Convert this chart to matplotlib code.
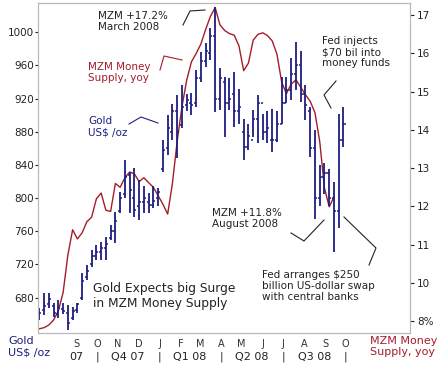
import matplotlib
matplotlib.use('Agg')
import matplotlib.pyplot as plt
import matplotlib.dates as mdates
import matplotlib.transforms as mtrans
from matplotlib.lines import Line2D
import pandas as pd

# weekly gold bars, US$ /oz (high, low, open, close)
gold_high = [667, 686, 686, 674, 677, 674, 671, 669, 674, 710, 719, 737, 743, 747, 753, 768,
             783, 807, 846, 831, 836, 822, 815, 806, 815, 812, 870, 900, 914, 924, 936, 925,
             927, 955, 976, 987, 1005, 1030, 957, 946, 945, 952, 932, 896, 890, 906, 924, 902,
             905, 908, 905, 946, 946, 969, 988, 978, 937, 910, 882, 840, 842, 835, 820, 902, 910]
gold_low = [653, 659, 668, 657, 656, 660, 641, 653, 662, 677, 701, 717, 725, 725, 725, 750,
            746, 782, 800, 782, 777, 774, 782, 782, 788, 790, 831, 852, 870, 849, 884, 905,
            900, 910, 940, 958, 966, 904, 906, 874, 906, 886, 890, 846, 858, 874, 866, 870,
            866, 856, 868, 890, 915, 918, 930, 916, 894, 850, 775, 790, 805, 790, 735, 764, 862]
gold_open = [655, 665, 672, 670, 660, 666, 662, 655, 665, 680, 705, 720, 730, 735, 740, 752,
             760, 785, 805, 828, 800, 790, 795, 795, 792, 800, 835, 860, 880, 905, 888, 912,
             915, 915, 945, 965, 975, 995, 920, 940, 915, 925, 905, 880, 862, 870, 895, 915,
             880, 870, 870, 890, 915, 930, 950, 960, 925, 905, 860, 800, 825, 830, 800, 785, 870]
gold_close = [662, 670, 678, 662, 668, 664, 650, 664, 672, 700, 712, 730, 735, 740, 745, 760,
              772, 800, 825, 810, 786, 795, 800, 792, 797, 808, 858, 885, 905, 880, 910, 918,
              912, 945, 965, 978, 995, 920, 945, 915, 920, 905, 910, 862, 875, 895, 915, 880,
              885, 870, 890, 915, 930, 950, 960, 925, 912, 860, 800, 825, 830, 800, 785, 870, 890]

# MZM money supply, % yoy (weekly)
mzm = [8.8, 8.83, 8.9, 9.03, 9.27, 9.75, 10.73, 11.39, 11.15, 11.31, 11.6, 11.72, 12.2, 12.35,
       11.9, 11.87, 12.6, 12.5, 12.75, 12.9, 12.85, 12.65, 12.75, 12.62, 12.5, 12.28, 12.06,
       11.8, 12.6, 13.7, 14.6, 15.3, 15.78, 16.0, 16.25, 16.63, 16.97, 17.2, 16.75, 16.6,
       16.52, 16.48, 16.2, 15.55, 15.75, 16.35, 16.5, 16.54, 16.47, 16.33, 15.98, 15.25,
       14.95, 15.2, 15.31, 15.12, 14.92, 14.75, 14.45, 13.7, 12.48, 11.99, 12.25]

months = ['S', 'O', 'N', 'D', 'J', 'F', 'M', 'A', 'M', 'J', 'J', 'A', 'S', 'O']
quarters = ['07', 'Q4 07', 'Q1 08', 'Q2 08', 'Q3 08']

gold_ticks = [680, 720, 760, 800, 840, 880, 920, 960, 1000]
mzm_ticks = [9, 10, 11, 12, 13, 14, 15, 16, 17]
mzm_labels = ['8%', '10', '11', '12', '13', '14', '15', '16', '17']

navy = '#1e1e80'
red = '#a51c2a'
txt = '#222222'
W, H = 442, 367

plt.rcParams['font.family'] = ['DejaVu Sans']
fig = plt.figure(figsize=(W / 100, H / 100), dpi=100)
ax = fig.add_axes([38 / W, 1 - 333 / H, 372 / W, 330 / H])
ax2 = ax.twinx()

weeks = mdates.date2num(pd.date_range('2007-07-08', periods=len(gold_high), freq='7D'))
mweeks = weeks[:len(mzm)]
tk = 3.0  # half width of open/close ticks in days

ax2.plot(mweeks, mzm, color=red, lw=1.0, zorder=1)
ax.vlines(weeks, gold_low, gold_high, color=navy, lw=1.3)
ax.hlines(gold_open, weeks - tk, weeks, color=navy, lw=1.1)
ax.hlines(gold_close, weeks, weeks + tk, color=navy, lw=1.1)
ax.set_zorder(ax2.get_zorder() + 1)
ax.patch.set_visible(False)

x0 = mdates.date2num(pd.Timestamp('2007-07-06'))
x1 = mdates.date2num(pd.Timestamp('2009-01-04'))
ax.set_xlim(x0, x1)
ax.set_ylim(637.4, 1035.3)
ax2.set_ylim(8.69, 17.32)

ax.set_yticks(gold_ticks)
ax.set_yticklabels([str(v) for v in gold_ticks])
ax2.set_yticks(mzm_ticks)
ax2.set_yticklabels(mzm_labels)
ax.tick_params(axis='y', length=2, width=0.8, pad=1, labelsize=7.5, colors=txt)
ax2.tick_params(axis='y', length=3, width=0.8, pad=2, labelsize=7.5, colors=txt)

mstarts = mdates.date2num(pd.date_range('2007-09-01', periods=len(months), freq='MS'))
ax.set_xticks(mstarts)
ax.set_xticklabels(months)
ax.tick_params(axis='x', length=0, pad=4, labelsize=7, colors='#333333')

for a in (ax, ax2):
    for s in a.spines.values():
        s.set_color('#b8b8b8')
        s.set_linewidth(0.8)

# quarter row under the month letters
tr = mtrans.blended_transform_factory(ax.transData, ax.transAxes)
qpos = mdates.date2num(pd.to_datetime(['2007-09-01', '2007-11-15', '2008-02-15',
                                       '2008-05-16', '2008-08-16']))
for q, xq in zip(quarters, qpos):
    ax.text(xq, -0.073, q, transform=tr, ha='center', va='center', fontsize=8, color=txt)
seps = mdates.date2num(pd.to_datetime(['2007-10-01', '2008-01-01', '2008-04-01',
                                       '2008-07-01', '2008-10-01']))
for xs in seps:
    ax.text(xs, -0.073, '|', transform=tr, ha='center', va='center', fontsize=8, color=txt)


def ftext(px, py, s, color=txt, size=7.5, **kw):
    fig.text(px / W, 1 - py / H, s, color=color, fontsize=size, va='top', ha='left',
             linespacing=1.15, **kw)


def fline(pts, color=txt):
    xs = [p[0] / W for p in pts]
    ys = [1 - p[1] / H for p in pts]
    fig.add_artist(Line2D(xs, ys, color=color, lw=0.8, transform=fig.transFigure))


ftext(8, 336, 'Gold\nUS$ /oz', color=navy, size=8)
ftext(370, 336, 'MZM Money\nSupply, yoy', color=red, size=8)

ftext(98, 11, 'MZM +17.2%\nMarch 2008')
fline([(183, 25), (190, 11), (205, 10)])
ftext(88, 62, 'MZM Money\nSupply, yoy', color=red)
fline([(160, 70), (164, 56), (182, 60)], color=red)
ftext(88, 116, 'Gold\nUS$ /oz', color=navy)
fline([(129, 124), (141, 117), (158, 123)], color=navy)
ftext(322, 36, 'Fed injects\n$70 bil into\nmoney funds')
fline([(336, 81), (324, 95), (331, 108)])
ftext(212, 208, 'MZM +11.8%\nAugust 2008')
fline([(291, 233), (304, 241), (324, 220)])
ftext(262, 270, 'Fed arranges $250\nbillion US-dollar swap\nwith central banks')
fline([(344, 217), (376, 248), (369, 265)])
ftext(93, 282, 'Gold Expects big Surge\nin MZM Money Supply', size=8.8)

fig.savefig('out.png', dpi=100)
